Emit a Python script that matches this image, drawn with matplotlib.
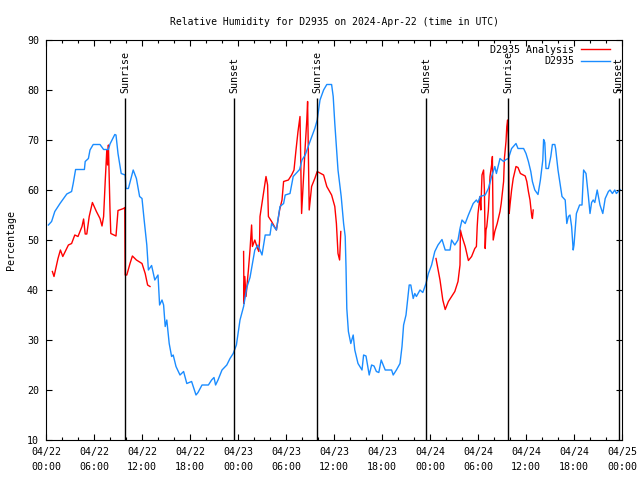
import numpy as np
import pandas as pd
import matplotlib
matplotlib.use('Agg')
import matplotlib.pyplot as plt
import matplotlib.dates as mdates

start = pd.Timestamp('2024-04-22 00:00')

# station observations (hours since 04/22 00:00 UTC, RH %)
obs_hours = [0.3, 0.7, 1.1, 1.75, 2.2, 2.6, 3.2, 3.4, 3.7, 4.8, 4.9, 5.3, 5.5, 5.9, 6.75, 7.2, 7.8, 8.0,
             8.6, 8.75, 9.0, 9.4, 9.9, 10.0, 10.3, 10.9, 11.3, 11.7, 12.0, 12.25, 12.6, 12.8, 13.2, 13.6,
             14.0, 14.2, 14.5, 14.7, 14.9, 15.1, 15.4, 15.7, 15.9, 16.25, 16.75, 17.2, 17.6, 18.2, 18.75,
             19.0, 19.5, 20.3, 20.7, 21.0, 21.2, 21.5, 22.0, 22.6, 23.0, 23.4, 23.8, 24.25, 24.7, 25.1,
             25.5, 26.1, 26.5, 27.0, 27.4, 28.0, 28.2, 28.8, 29.25, 29.7, 29.9, 30.5, 30.9, 31.7, 32.0,
             32.4, 33.0, 33.6, 33.9, 34.25, 34.7, 35.1, 35.7, 35.9, 36.1, 36.5, 36.9, 37.2, 37.4, 37.5,
             37.6, 37.8, 38.1, 38.4, 38.6, 39.0, 39.5, 39.7, 40.0, 40.4, 40.7, 41.0, 41.3, 41.6, 41.9,
             42.4, 43.2, 43.4, 43.8, 44.25, 44.5, 44.7, 45.0, 45.2, 45.4, 45.6, 45.9, 46.1, 46.3, 46.75,
             47.1, 47.5, 47.8, 48.2, 48.6, 49.0, 49.5, 49.9, 50.5, 50.7, 51.1, 51.5, 51.75, 52.0, 52.4,
             52.8, 53.4, 53.8, 54.0, 54.25, 54.9, 55.3, 55.7, 56.1, 56.3, 56.75, 57.2, 57.5, 57.8, 58.2,
             58.75, 59.0, 59.7, 60.0, 60.3, 60.6, 60.8, 61.1, 61.5, 61.8, 62.1, 62.2, 62.35, 62.5, 62.8,
             63.1, 63.3, 63.6, 63.7, 64.0, 64.5, 64.9, 65.1, 65.3, 65.5, 65.7, 65.9, 66.0, 66.3, 66.7,
             67.0, 67.2, 67.5, 67.8, 68.0, 68.2, 68.4, 68.6, 68.9, 69.25, 69.6, 69.9, 70.3, 70.5, 70.8,
             71.1, 71.3, 71.75]
obs_rh = [53, 53.7, 55.7, 57.3, 58.3, 59.2, 59.7, 61.3, 64.1, 64.1, 65.7, 66.3, 68, 69.1, 69.1, 68.1, 68.1, 69.2,
          71.1, 71, 67.3, 63.3, 63, 60.3, 60.3, 64, 62.3, 58.7, 58.3, 54.3, 49, 44, 44.9, 42,
          43, 37, 38, 37, 32.7, 34, 29.3, 26.7, 27, 24.7, 23, 23.7, 21.3, 21.7, 19,
          19.5, 21, 21, 22, 22.5, 21, 22, 24, 25, 26.3, 27.3, 29, 34, 36.7, 40.5,
          42.5, 48, 49, 47, 51, 51, 53.3, 52, 56.7, 57.3, 59, 59.3, 62.7, 64.1, 66,
          67, 69.7, 72.3, 74, 78, 80, 81.1, 81.1, 78.7, 73.3, 64, 58.7, 53.3, 50.7, 44.7,
          36.3, 31.7, 29.3, 31, 28, 25.3, 24, 27, 26.8, 23, 25, 24.8, 23.7, 23.5, 26,
          24, 24, 23, 24, 25.3, 28.7, 33, 35, 38, 41, 41, 38.3, 39.3, 38.7, 40,
          39.5, 41.3, 43.3, 45, 47.7, 49, 50.1, 48, 48, 50, 49, 50, 52.3, 54, 53.3,
          55, 57.3, 58, 57.5, 58.7, 59, 60.3, 62.7, 64.7, 63.3, 66.3, 65.7, 66.1, 66.3, 68.3,
          69.3, 68.3, 68.3, 67.3, 65.7, 63.7, 61.7, 60, 59.1, 62, 66, 70.1, 69.5, 64.3, 64.3,
          66.7, 69.1, 69.1, 68.3, 64, 58.7, 58, 53.3, 54.7, 55, 52.7, 48, 49, 55.3, 57,
          57, 64, 63.3, 58.7, 55.3, 57.5, 58, 57.5, 60, 57, 55.3, 58.3, 59.7, 60, 59.3,
          60, 59.3, 60.1]

# analysis series, nan = gap
ana_hours = [0.8, 1.0, 1.5, 1.8, 2.1, 2.8, 3.2, 3.6, 4.0, 4.5, 4.7, 4.9, 5.1, 5.4, 5.8, 6.3, 6.75, 7.0,
             7.2, 7.4, 7.6, 7.7, 7.8, 8.0, 8.1, 8.75, 9.0, 9.7, 9.85, 9.9, 10.1, 10.5, 10.8, 11.3, 12.0,
             12.4, 12.7, 13.0, 13.1,
             24.7, 24.75, 24.85, 25.0, 25.3, 25.5, 25.7, 25.8, 26.1, 26.4, 26.6, 26.7, 26.75, 27.5, 27.7,
             27.8, 28.2, 28.8, 29.2, 29.5, 29.7, 30.3, 30.7, 31.0, 31.25, 31.5, 31.75, 31.95, 32.2, 32.4,
             32.6, 32.7, 32.9, 33.2, 33.6, 33.9, 34.7, 35.1, 35.7, 36.1, 36.3, 36.5, 36.7, 36.85, 36.9,
             48.75, 49.25, 49.6, 49.9, 50.3, 50.7, 51.1, 51.5, 51.75, 51.8, 52.0, 52.4, 52.6, 52.8, 53.2,
             53.6, 53.8, 53.9, 54.0, 54.25, 54.35, 54.5, 54.7, 54.8, 54.9, 55.0, 55.1, 55.3, 55.5, 55.7,
             55.8, 55.9, 56.1, 56.4, 56.75, 56.9, 57.2, 57.3, 57.5, 57.6, 57.7, 57.8, 57.9, 58.0, 58.2,
             58.4, 58.75, 59.0, 59.3, 59.9, 60.1, 60.3, 60.5, 60.7, 60.8, 60.9]
ana_rh = [43.7, 42.7, 46.3, 48, 46.7, 49, 49.3, 51, 50.7, 52.7, 54.2, 51.2, 51.2, 54.7, 57.5, 55.7, 54.3, 52.8,
          54.7, 61.7, 68, 65, 69, 56, 51.3, 50.8, 55.9, 56.3, 56.5, 43, 43, 45.3, 46.8, 46, 45.3,
          43.3, 41, 40.7, np.nan,
          47.7, 37.3, 42.7, 38.7, 44, 48, 53, 48.7, 50, 48.5, 47.7, 50, 54.7, 62.7, 61,
          54.7, 53.7, 52, 56, 58, 61.7, 62, 63, 64, 68, 71.7, 74.7, 55.3, 62.7, 68.7,
          74, 77.7, 56, 60.7, 62.3, 63.7, 63, 60.7, 59, 56.7, 53.3, 47.3, 46, 51.7, np.nan,
          46.3, 42, 38, 36.1, 37.7, 38.7, 39.7, 41.7, 45, 52, 50.7, 48.7, 47.3, 45.9, 46.7,
          48.3, 48.7, 52.7, 55.3, 58.7, 56, 63, 64, 60, 48.3, 52, 52.7, 56, 62.7, 65,
          66.7, 50, 51.7, 53.3, 55.7, 57.3, 61.7, 66.3, 69.7, 72.7, 74, 70, 55.3, 57, 60,
          62.3, 64.7, 64.5, 63.3, 62.8, 61.7, 59.7, 58, 55, 54.3, 56]

sun_times = ['2024-04-22 09:52', '2024-04-22 23:30', '2024-04-23 09:52',
             '2024-04-23 23:30', '2024-04-24 09:45', '2024-04-24 23:36']
sun_labels = ['Sunrise', 'Sunset', 'Sunrise', 'Sunset', 'Sunrise', 'Sunset']

obs_t = start + pd.to_timedelta(obs_hours, unit='h')
ana_t = start + pd.to_timedelta(ana_hours, unit='h')

plt.rcParams['font.family'] = 'DejaVu Sans Mono'
plt.rcParams['font.size'] = 7.2

fig = plt.figure(figsize=(6.4, 4.8), dpi=100)
ax = fig.add_axes([46 / 640, 40 / 480, 576 / 640, 400 / 480])

ax.plot(ana_t, ana_rh, color='#ff0000', lw=1, label='D2935 Analysis')
ax.plot(obs_t, obs_rh, color='#1a8cff', lw=1, label='D2935')

# sunrise / sunset markers
for t, lab in zip(sun_times, sun_labels):
    t = pd.Timestamp(t)
    ax.vlines(t, 10, 78.3, color='black', lw=1)
    ax.text(t, 79.3, lab, rotation=90, ha='center', va='bottom', clip_on=False)

ax.set_xlim(start, start + pd.Timedelta(hours=72))
ax.set_ylim(10, 90)
ax.set_yticks(range(10, 91, 10))
ax.xaxis.set_major_locator(mdates.HourLocator(byhour=range(0, 24, 6)))
ax.xaxis.set_minor_locator(mdates.HourLocator(byhour=range(0, 24, 2)))
ax.xaxis.set_major_formatter(mdates.DateFormatter('%m/%d\n%H:%M'))
ax.tick_params(which='both', direction='in', top=True, right=True, width=0.8)
ax.tick_params(which='major', length=4.5, pad=5)
ax.tick_params(which='minor', length=2.5)
for lbl in ax.get_xticklabels():
    lbl.set_linespacing(1.6)
for s in ax.spines.values():
    s.set_linewidth(0.8)

ax.set_ylabel('Percentage', labelpad=8)
ax.set_title('Relative Humidity for D2935 on 2024-Apr-22 (time in UTC)', fontsize=7, pad=11)
ax.legend(loc='upper right', bbox_to_anchor=(0.993, 1.008), frameon=False, markerfirst=False,
          handlelength=2.9, handletextpad=0.7, labelspacing=0.15, borderaxespad=0.4)

plt.savefig('out.png', dpi=100)
